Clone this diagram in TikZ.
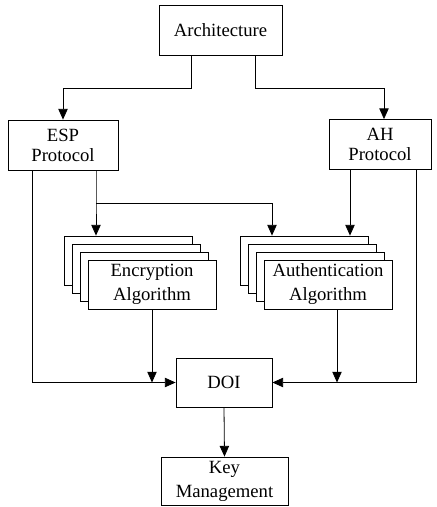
\documentclass[tikz,border=0pt]{standalone}
\usepackage{fontspec}
\setmainfont{Liberation Serif}
\usetikzlibrary{arrows.meta}

\begin{document}
\begin{tikzpicture}[x=0.75pt, y=-0.75pt,
	block/.style={draw, line width=0.6pt, fill=white, inner sep=0pt, align=center,
		font=\fontsize{14}{18}\selectfont, minimum height=36.75pt},
	proto/.style={block, font=\fontsize{14}{15}\selectfont, minimum height=37.5pt},
	link/.style={line width=0.6pt, -{Triangle[length=8pt, width=7pt]}}]
	\useasboundingbox (0,0) rectangle (436,507);
	\node (arch) [block, minimum width=92.25pt, minimum height=37.5pt] at (220.5,30) {Architecture};
	\node (esp) [proto, minimum width=82.5pt] at (63,145) {ESP\\Protocol};
	\node (ah) [proto, minimum width=76.5pt] at (380,144.5) {AH\\Protocol};
	% algorithm stacks
	\foreach \i in {1,2,3} {
		\node (enc\i) [block, minimum width=96pt] at ({128+8*(\i-1)},{260.5+8*(\i-1)}) {};
		\node (auth\i) [block, minimum width=96pt] at ({304+8*(\i-1)},{260.5+8*(\i-1)}) {};
	}
	\node (enc4) [block, minimum width=96pt] at (152,284.5) {Encryption\\Algorithm};
	\node (auth4) [block, minimum width=96pt] at (328,284.5) {Authentication\\Algorithm};
	\node (doi) [block, minimum width=72pt] at (224,382.5) {DOI};
	\node (key) [block, minimum width=95.25pt, minimum height=36pt] at (224.5,481) {Key\\Management};

	\draw[link] ([xshift=-22pt]arch.south) -- ++(0,33) -| (esp.north);
	\draw[link] ([xshift=26pt]arch.south) -- ++(0,33) -| ([xshift=3pt]ah.north);
	\draw[link] ([xshift=24.75pt]esp.south) -- ++(0,33) coordinate (fork) -- ([xshift=-24pt]enc1.north);
	\draw[link] (fork) -| ([xshift=-24pt]auth1.north);
	\draw[link] ([xshift=-22.5pt]ah.south) -- ([xshift=34.5pt]auth1.north);
	\draw[link] ([xshift=-23.25pt]esp.south) |- (doi.west);
	\draw[link] ([xshift=27pt]ah.south) |- (doi.east);
	\draw[link] (enc4.south) -- (enc4.south |- doi.west);
	\draw[link] ([xshift=6.75pt]auth4.south) coordinate (authout) -- (authout |- doi.east);
	\draw[link] (doi.south) -- (key.north);
\end{tikzpicture}
\end{document}
